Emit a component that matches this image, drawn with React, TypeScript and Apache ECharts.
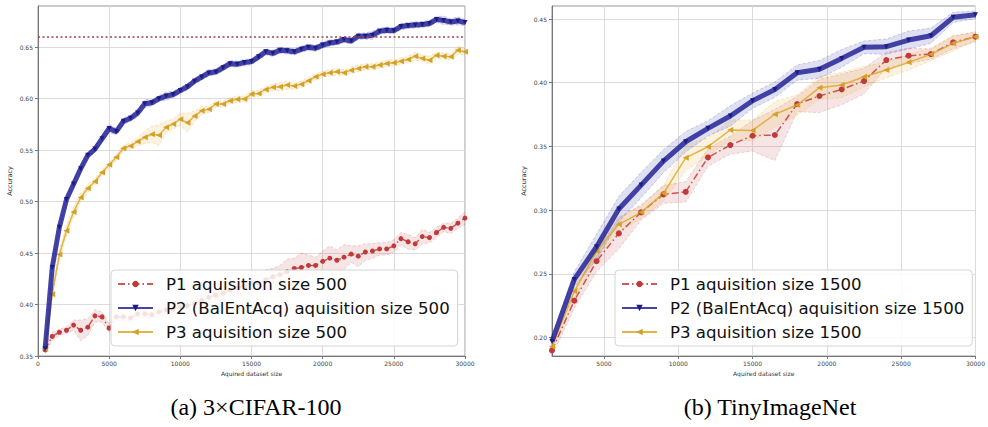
import { useEffect, useRef } from "react";
import * as echarts from "echarts";

// ---- 3×CIFAR-100: acquired dataset size (step 500) ----
const cifarSizes = [
  500, 1000, 1500, 2000, 2500, 3000, 3500, 4000, 4500, 5000,
  5500, 6000, 6500, 7000, 7500, 8000, 8500, 9000, 9500, 10000,
  10500, 11000, 11500, 12000, 12500, 13000, 13500, 14000, 14500, 15000,
  15500, 16000, 16500, 17000, 17500, 18000, 18500, 19000, 19500, 20000,
  20500, 21000, 21500, 22000, 22500, 23000, 23500, 24000, 24500, 25000,
  25500, 26000, 26500, 27000, 27500, 28000, 28500, 29000, 29500, 30000,
];
const cifarP1 = [
  0.356, 0.369, 0.373, 0.375, 0.380, 0.375, 0.378, 0.389, 0.388, 0.377,
  0.388, 0.388, 0.387, 0.391, 0.391, 0.390, 0.393, 0.395, 0.395, 0.398,
  0.399, 0.401, 0.404, 0.407, 0.409, 0.411, 0.414, 0.416, 0.418, 0.421,
  0.421, 0.424, 0.427, 0.429, 0.432, 0.435, 0.436, 0.438, 0.438, 0.442,
  0.445, 0.443, 0.446, 0.449, 0.447, 0.451, 0.452, 0.454, 0.454, 0.457,
  0.464, 0.461, 0.459, 0.466, 0.465, 0.470, 0.475, 0.474, 0.479, 0.484,
];
const cifarP1Err = [
  0.004, 0.004, 0.003, 0.003, 0.005, 0.010, 0.008, 0.006, 0.005, 0.004,
  0.004, 0.004, 0.004, 0.004, 0.004, 0.004, 0.005, 0.005, 0.005, 0.005,
  0.005, 0.005, 0.005, 0.006, 0.006, 0.006, 0.006, 0.006, 0.006, 0.006,
  0.008, 0.010, 0.008, 0.009, 0.012, 0.010, 0.014, 0.010, 0.008, 0.010,
  0.012, 0.010, 0.012, 0.008, 0.010, 0.008, 0.007, 0.006, 0.006, 0.006,
  0.006, 0.007, 0.006, 0.007, 0.005, 0.005, 0.004, 0.005, 0.005, 0.006,
];
const cifarP2 = [
  0.357, 0.436, 0.475, 0.502, 0.517, 0.532, 0.545, 0.551, 0.561, 0.571,
  0.568, 0.578, 0.581, 0.586, 0.595, 0.596, 0.600, 0.6025, 0.604, 0.608,
  0.6115, 0.617, 0.621, 0.625, 0.626, 0.630, 0.634, 0.6335, 0.635, 0.636,
  0.6406, 0.6455, 0.644, 0.647, 0.6465, 0.6455, 0.648, 0.650, 0.649, 0.652,
  0.654, 0.655, 0.6575, 0.656, 0.6607, 0.6607, 0.6616, 0.6655, 0.6665, 0.666,
  0.670, 0.671, 0.6716, 0.672, 0.673, 0.677, 0.676, 0.6745, 0.6755, 0.674,
];
const cifarP2Err = [
  0.004, 0.004, 0.004, 0.003, 0.003, 0.003, 0.003, 0.003, 0.003, 0.004,
  0.003, 0.003, 0.003, 0.004, 0.004, 0.003, 0.003, 0.004, 0.003, 0.003,
  0.003, 0.003, 0.003, 0.003, 0.003, 0.003, 0.003, 0.003, 0.003, 0.003,
  0.003, 0.003, 0.003, 0.003, 0.003, 0.003, 0.003, 0.003, 0.003, 0.003,
  0.003, 0.003, 0.003, 0.003, 0.003, 0.003, 0.004, 0.003, 0.003, 0.003,
  0.003, 0.003, 0.003, 0.003, 0.003, 0.003, 0.004, 0.003, 0.004, 0.003,
];
const cifarP3 = [
  0.357, 0.410, 0.4485, 0.4717, 0.4898, 0.504, 0.513, 0.5195, 0.5282, 0.5357,
  0.543, 0.5518, 0.554, 0.5583, 0.5625, 0.5654, 0.5644, 0.5722, 0.5754, 0.580,
  0.5767, 0.5831, 0.5883, 0.5896, 0.5948, 0.5948, 0.598, 0.5993, 0.5996, 0.6045,
  0.6051, 0.609, 0.611, 0.6115, 0.6132, 0.6122, 0.6141, 0.6174, 0.6212, 0.6238,
  0.6251, 0.6261, 0.6251, 0.6277, 0.6294, 0.631, 0.631, 0.6326, 0.6342, 0.6348,
  0.6364, 0.638, 0.6413, 0.639, 0.6374, 0.6422, 0.6413, 0.6406, 0.6471, 0.6455,
];
const cifarP3Err = [
  0.003, 0.004, 0.005, 0.005, 0.005, 0.004, 0.004, 0.003, 0.003, 0.003,
  0.003, 0.003, 0.003, 0.004, 0.006, 0.008, 0.010, 0.006, 0.005, 0.006,
  0.009, 0.005, 0.004, 0.003, 0.003, 0.003, 0.003, 0.003, 0.003, 0.003,
  0.003, 0.003, 0.003, 0.004, 0.004, 0.003, 0.003, 0.003, 0.003, 0.003,
  0.003, 0.003, 0.003, 0.003, 0.003, 0.003, 0.003, 0.003, 0.003, 0.003,
  0.003, 0.003, 0.004, 0.003, 0.004, 0.003, 0.003, 0.003, 0.004, 0.003,
];
const cifarTarget = 0.66;
const cifarXTicks = [0, 5000, 10000, 15000, 20000, 25000, 30000];
const cifarYTicks = [0.35, 0.4, 0.45, 0.5, 0.55, 0.6, 0.65];
const cifarNames = [
  "P1 aquisition size 500",
  "P2 (BalEntAcq) aquisition size 500",
  "P3 aquisition size 500",
];

// ---- TinyImageNet: acquired dataset size (step 1500) ----
const tinySizes = [
  1500, 3000, 4500, 6000, 7500, 9000, 10500, 12000, 13500, 15000,
  16500, 18000, 19500, 21000, 22500, 24000, 25500, 27000, 28500, 30000,
];
const tinyP1 = [
  0.190, 0.229, 0.260, 0.2818, 0.2983, 0.3124, 0.3144, 0.3414, 0.3511, 0.3584,
  0.359, 0.3833, 0.3896, 0.3948, 0.4013, 0.4178, 0.4212, 0.4225, 0.4317, 0.4361,
];
const tinyP1Err = [
  0.004, 0.006, 0.008, 0.012, 0.006, 0.007, 0.008, 0.007, 0.007, 0.012,
  0.020, 0.006, 0.013, 0.012, 0.010, 0.006, 0.006, 0.004, 0.005, 0.004,
];
const tinyP2 = [
  0.197, 0.2457, 0.2713, 0.3009, 0.3197, 0.3385, 0.3537, 0.3642, 0.3739, 0.3859,
  0.3946, 0.4079, 0.4105, 0.4191, 0.4278, 0.4283, 0.4335, 0.4369, 0.4513, 0.4534,
];
const tinyP2Err = [
  0.004, 0.006, 0.010, 0.010, 0.010, 0.009, 0.008, 0.006, 0.008, 0.006,
  0.006, 0.006, 0.007, 0.007, 0.005, 0.006, 0.007, 0.006, 0.004, 0.003,
];
const tinyP3 = [
  0.193, 0.2365, 0.2679, 0.2889, 0.2983, 0.3132, 0.3411, 0.3498, 0.3629, 0.3626,
  0.3753, 0.3825, 0.3961, 0.3982, 0.4047, 0.410, 0.416, 0.4223, 0.4309, 0.4361,
];
const tinyP3Err = [
  0.003, 0.006, 0.006, 0.006, 0.005, 0.006, 0.010, 0.007, 0.008, 0.008,
  0.010, 0.008, 0.009, 0.010, 0.008, 0.006, 0.006, 0.005, 0.006, 0.003,
];
const tinyXTicks = [5000, 10000, 15000, 20000, 25000, 30000];
const tinyYTicks = [0.2, 0.25, 0.3, 0.35, 0.4, 0.45];
const tinyNames = [
  "P1 aquisition size 1500",
  "P2 (BalEntAcq) aquisition size 1500",
  "P3 aquisition size 1500",
];

const FONT = "DejaVu Sans";

type Style = {
  line: string;
  marker: string;
  fill: string;
  edge: string;
  width: number;
  dash: number[] | "solid";
  symbol: string;
  rotate: number;
  size: number;
};

const P1_STYLE: Style = {
  line: "rgba(196,60,60,0.85)",
  marker: "#c03a3a",
  fill: "rgba(200,70,70,0.14)",
  edge: "rgba(200,70,70,0.3)",
  width: 1.5,
  dash: [7, 3, 1.5, 3],
  symbol: "circle",
  rotate: 0,
  size: 5,
};
const P2_STYLE: Style = {
  line: "rgba(28,28,148,0.82)",
  marker: "#1c1c86",
  fill: "rgba(60,60,180,0.16)",
  edge: "rgba(60,60,180,0.3)",
  width: 5,
  dash: "solid",
  symbol: "triangle",
  rotate: 180,
  size: 5,
};
const P3_STYLE: Style = {
  line: "rgba(222,168,40,0.85)",
  marker: "#d6a026",
  fill: "rgba(225,175,50,0.15)",
  edge: "rgba(225,175,50,0.35)",
  width: 1.5,
  dash: "solid",
  symbol: "triangle",
  rotate: 90,
  size: 6,
};

// Shaded spread (mean ± err) drawn as one polygon through the grid's own coordinates.
function bandSeries(grid: number, xs: number[], mean: number[], err: number[], st: Style) {
  return {
    type: "custom",
    xAxisIndex: grid,
    yAxisIndex: grid,
    silent: true,
    clip: true,
    z: 1,
    data: [[xs[0], mean[0]]],
    renderItem: (_params: unknown, api: any) => {
      const upper = xs.map((x, i) => api.coord([x, mean[i] + err[i]]));
      const lower = xs.map((x, i) => api.coord([x, mean[i] - err[i]])).reverse();
      return {
        type: "polygon",
        shape: { points: upper.concat(lower) },
        style: { fill: st.fill, stroke: st.edge, lineWidth: 0.8, lineDash: [3, 2] },
      };
    },
  };
}

function meanSeries(
  name: string,
  grid: number,
  xs: number[],
  mean: number[],
  st: Style,
  z: number,
  extra: Record<string, unknown> = {}
) {
  return {
    type: "line",
    name,
    xAxisIndex: grid,
    yAxisIndex: grid,
    data: xs.map((x, i) => [x, mean[i]]),
    symbol: st.symbol,
    symbolRotate: st.rotate,
    symbolSize: st.size,
    showAllSymbol: true,
    itemStyle: { color: st.marker },
    lineStyle: { color: st.line, width: st.width, type: st.dash },
    z,
    ...extra,
  };
}

function xAxis(grid: number, min: number, max: number, ticks: number[]) {
  return {
    type: "value",
    gridIndex: grid,
    min,
    max,
    name: "Aquired dataset size",
    nameLocation: "middle",
    nameGap: 13,
    nameTextStyle: { fontSize: 6, color: "#333", fontFamily: FONT },
    axisLine: { show: true, onZero: false, lineStyle: { color: "#777", width: 1 } },
    axisTick: { show: true, customValues: ticks, length: 3, lineStyle: { color: "#777" } },
    axisLabel: {
      customValues: ticks,
      fontSize: 6,
      color: "#444",
      margin: 4,
      fontFamily: FONT,
      formatter: (v: number) => String(Math.round(v)),
    },
    splitLine: { show: true, lineStyle: { color: "#dcdcdc", width: 1 } },
  };
}

function yAxis(grid: number, min: number, max: number, ticks: number[]) {
  return {
    type: "value",
    gridIndex: grid,
    min,
    max,
    name: "Accuracy",
    nameLocation: "middle",
    nameRotate: 90,
    nameGap: 25,
    nameTextStyle: { fontSize: 6.5, color: "#333", fontFamily: FONT },
    axisLine: { show: true, lineStyle: { color: "#777", width: 1 } },
    axisTick: { show: true, customValues: ticks, length: 3, lineStyle: { color: "#777" } },
    axisLabel: {
      customValues: ticks,
      fontSize: 6,
      color: "#444",
      margin: 5,
      fontFamily: FONT,
      formatter: (v: number) => v.toFixed(2),
    },
    splitLine: { show: true, lineStyle: { color: "#dcdcdc", width: 1 } },
  };
}

function legend(names: string[], left: number) {
  return {
    data: names,
    orient: "vertical",
    left,
    top: 270,
    padding: [4, 8, 4, 6],
    itemWidth: 35,
    itemHeight: 8,
    itemGap: 4,
    backgroundColor: "rgba(255,255,255,0.85)",
    borderColor: "#d4d4d4",
    borderWidth: 1,
    borderRadius: 4,
    selectedMode: false,
    textStyle: {
      fontSize: 16.6,
      lineHeight: 20,
      color: "#111",
      fontFamily: FONT,
      padding: [0, 0, 0, 8],
    },
  };
}

export default function App() {
  const ref = useRef<HTMLDivElement>(null);

  useEffect(() => {
    if (!ref.current) return;
    const chart = echarts.init(ref.current, undefined, { renderer: "svg" });

    const series = [
      bandSeries(0, cifarSizes, cifarP1, cifarP1Err, P1_STYLE),
      bandSeries(0, cifarSizes, cifarP3, cifarP3Err, P3_STYLE),
      bandSeries(0, cifarSizes, cifarP2, cifarP2Err, P2_STYLE),
      meanSeries(cifarNames[0], 0, cifarSizes, cifarP1, P1_STYLE, 3),
      meanSeries(cifarNames[2], 0, cifarSizes, cifarP3, P3_STYLE, 3),
      meanSeries(cifarNames[1], 0, cifarSizes, cifarP2, P2_STYLE, 4, {
        markLine: {
          silent: true,
          symbol: ["none", "none"],
          label: { show: false },
          lineStyle: { color: "#a8404f", type: [2, 2.5], width: 1.5 },
          data: [{ yAxis: cifarTarget }],
        },
      }),
      bandSeries(1, tinySizes, tinyP1, tinyP1Err, P1_STYLE),
      bandSeries(1, tinySizes, tinyP3, tinyP3Err, P3_STYLE),
      bandSeries(1, tinySizes, tinyP2, tinyP2Err, P2_STYLE),
      meanSeries(tinyNames[0], 1, tinySizes, tinyP1, { ...P1_STYLE, size: 6 }, 3),
      meanSeries(tinyNames[2], 1, tinySizes, tinyP3, P3_STYLE, 3),
      meanSeries(tinyNames[1], 1, tinySizes, tinyP2, P2_STYLE, 4),
    ];

    chart.setOption({
      animation: false,
      backgroundColor: "#fff",
      textStyle: { fontFamily: FONT },
      grid: [
        { left: 38, top: 6, width: 427, height: 350, show: true, borderColor: "#999", borderWidth: 1 },
        { left: 552, top: 6, width: 427, height: 350, show: true, borderColor: "#999", borderWidth: 1 },
      ],
      xAxis: [xAxis(0, 0, 30000, cifarXTicks), xAxis(1, 1500, 30000, tinyXTicks)],
      yAxis: [yAxis(0, 0.35, 0.69, cifarYTicks), yAxis(1, 0.1856, 0.4602, tinyYTicks)],
      legend: [legend(cifarNames, 111), legend(tinyNames, 615)],
      graphic: [
        {
          type: "text",
          x: 256,
          y: 407,
          style: {
            text: "(a) 3×CIFAR-100",
            font: '24px "Liberation Serif"',
            fill: "#000",
            align: "center",
            verticalAlign: "middle",
          },
        },
        {
          type: "text",
          x: 770,
          y: 407,
          style: {
            text: "(b) TinyImageNet",
            font: '24px "Liberation Serif"',
            fill: "#000",
            align: "center",
            verticalAlign: "middle",
          },
        },
      ],
      series,
    });

    return () => chart.dispose();
  }, []);

  return (
    <div
      ref={ref}
      style={{ position: "fixed", left: 0, top: 0, width: 988, height: 427, background: "#fff" }}
    />
  );
}
